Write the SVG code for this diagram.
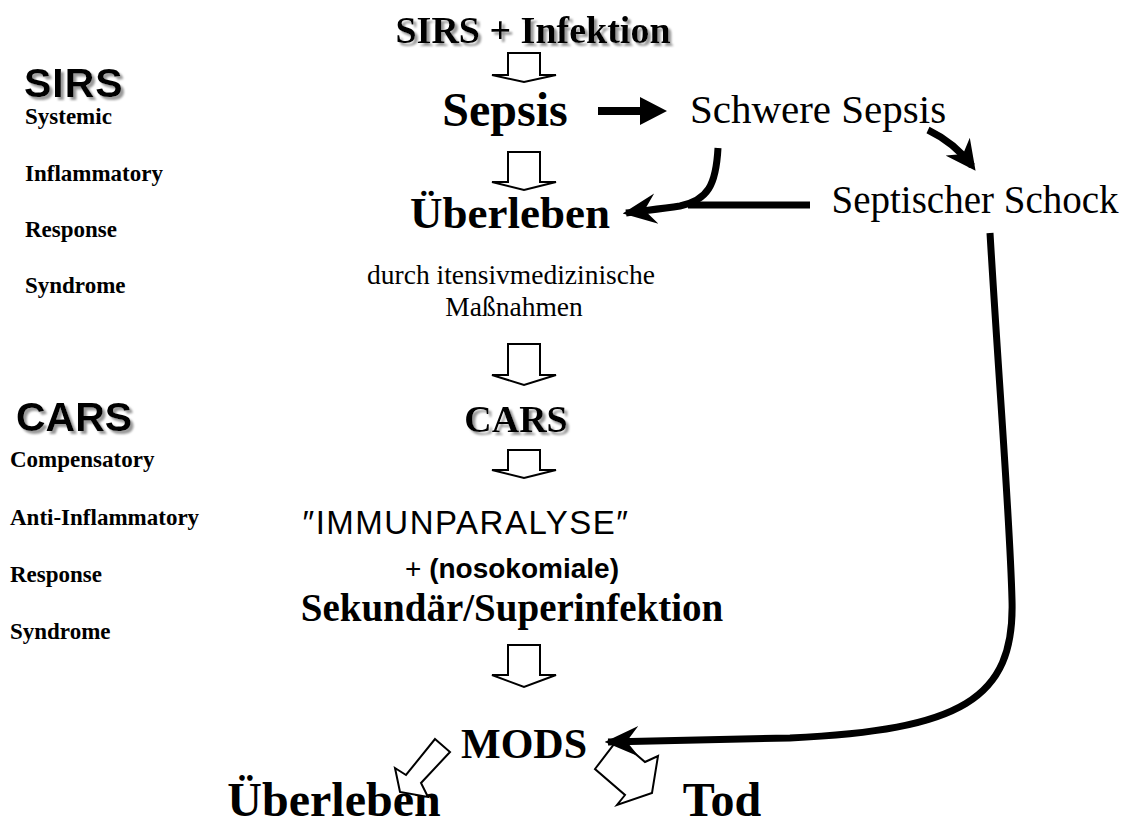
<svg xmlns="http://www.w3.org/2000/svg" width="1123" height="832" viewBox="0 0 1123 832">
<defs>
<filter id="sh" x="-10%" y="-20%" width="130%" height="150%">
<feGaussianBlur in="SourceAlpha" stdDeviation="1"/>
<feOffset dx="2.5" dy="2.5" result="o"/>
<feFlood flood-color="#999"/>
<feComposite in2="o" operator="in"/>
<feMerge><feMergeNode/><feMergeNode in="SourceGraphic"/></feMerge>
</filter>
<marker id="head" viewBox="0 0 10 10" refX="8" refY="5" markerWidth="30" markerHeight="30" markerUnits="userSpaceOnUse" orient="auto">
<path d="M0,0 L10,5 L0,10 L3,5 Z" fill="#000"/>
</marker>
<marker id="vhead" viewBox="0 0 10 10" refX="9" refY="5" markerWidth="34" markerHeight="34" markerUnits="userSpaceOnUse" orient="auto">
<path d="M0,0.5 L10,5 L0,9.5 L3.5,5 Z" fill="#000"/>
</marker>
</defs>
<style>
.b{font-family:"Liberation Serif","Times New Roman",serif;font-weight:bold;fill:#000}
.r{font-family:"Liberation Serif","Times New Roman",serif;fill:#000}
.s{font-family:"Liberation Sans",Arial,sans-serif;fill:#000}
.sb{font-family:"Liberation Sans",Arial,sans-serif;font-weight:bold;fill:#000}
.lab{font-family:"Liberation Serif","Times New Roman",serif;font-weight:bold;font-size:23px}
.hollow{fill:#fff;stroke:#000;stroke-width:2}
.thick{fill:none;stroke:#000;stroke-width:7}
</style>
<g id="legend-sirs">
<text class="sb" x="24" y="97" font-size="41" letter-spacing="1" filter="url(#sh)">SIRS</text>
<text class="lab" x="25" y="124">Systemic</text>
<text class="lab" x="25" y="181">Inflammatory</text>
<text class="lab" x="25" y="237">Response</text>
<text class="lab" x="25" y="293">Syndrome</text>
</g>
<g id="legend-cars">
<text class="sb" x="16" y="431" font-size="41" filter="url(#sh)">CARS</text>
<text class="lab" x="10" y="467">Compensatory</text>
<text class="lab" x="10" y="525">Anti-Inflammatory</text>
<text class="lab" x="10" y="582">Response</text>
<text class="lab" x="10" y="639">Syndrome</text>
</g>
<g id="n-sirs-infektion"><text class="b" x="533" y="43" font-size="38" text-anchor="middle" filter="url(#sh)">SIRS + Infektion</text></g>
<g id="n-sepsis"><text class="b" x="505" y="126" font-size="48" text-anchor="middle">Sepsis</text></g>
<g id="n-schwere"><text class="r" x="818" y="123" font-size="41" text-anchor="middle">Schwere Sepsis</text></g>
<g id="n-schock"><text class="r" x="975" y="213" font-size="39" text-anchor="middle">Septischer Schock</text></g>
<g id="n-ueberleben"><text class="b" x="510" y="228" font-size="45" text-anchor="middle">Überleben</text></g>
<g id="n-massnahmen">
<text class="r" x="511" y="284" font-size="27.5" text-anchor="middle">durch itensivmedizinische</text>
<text class="r" x="514" y="316" font-size="27.5" text-anchor="middle">Maßnahmen</text>
</g>
<g id="n-cars"><text class="b" x="516" y="432" font-size="38" text-anchor="middle" filter="url(#sh)">CARS</text></g>
<g id="n-immun">
<text class="s" x="466" y="534" font-size="33" text-anchor="middle" letter-spacing="1.5">″IMMUNPARALYSE″</text>
<text x="512" y="578" font-size="28" text-anchor="middle"><tspan class="s">+ </tspan><tspan class="sb">(nosokomiale)</tspan></text>
<text class="b" x="512" y="621" font-size="39" text-anchor="middle">Sekundär/Superinfektion</text>
</g>
<g id="n-mods"><text class="b" x="524" y="758" font-size="42" text-anchor="middle">MODS</text></g>
<g id="n-ueberleben2"><text class="b" x="334" y="816" font-size="48" text-anchor="middle">Überleben</text></g>
<g id="n-tod"><text class="b" x="722" y="816" font-size="48" text-anchor="middle">Tod</text></g>
<g id="connectors">
<path class="hollow" d="M508,53 H540 V75 H556 L524,82 L492,75 H508 Z"/>
<path class="hollow" d="M508,152 H540 V182 H556 L524,190 L492,182 H508 Z"/>
<path class="hollow" d="M508,344 H540 V375 H556 L524,385 L492,375 H508 Z"/>
<path class="hollow" d="M508,450 H540 V470 H556 L524,478 L492,470 H508 Z"/>
<path class="hollow" d="M508,645 H540 V675 H556 L524,687 L492,675 H508 Z"/>
<path class="hollow" d="M435,739 L450,752 L421,783 L428,797 L400,792 L395,768 L406,775 Z"/>
<path class="hollow" d="M618,739 L645,762 L658,756 L652,793 L617,805 L625,795 L595,769 Z"/>
<path d="M598,107 H640 V97 L667,111 L640,125 V115 H598 Z" fill="#000"/>
<path class="thick" d="M928,130 Q955,143 972,166" marker-end="url(#head)"/>
<path class="thick" d="M718,148 C716,185 708,200 680,206 C660,209 640,211 626,213" marker-end="url(#vhead)"/>
<path class="thick" d="M810,205 H688"/>
<path class="thick" d="M990,233 C1000,400 1010,520 1012,600 C1015,700 960,730 790,738 L608,742" marker-end="url(#vhead)"/>
</g>
</svg>
